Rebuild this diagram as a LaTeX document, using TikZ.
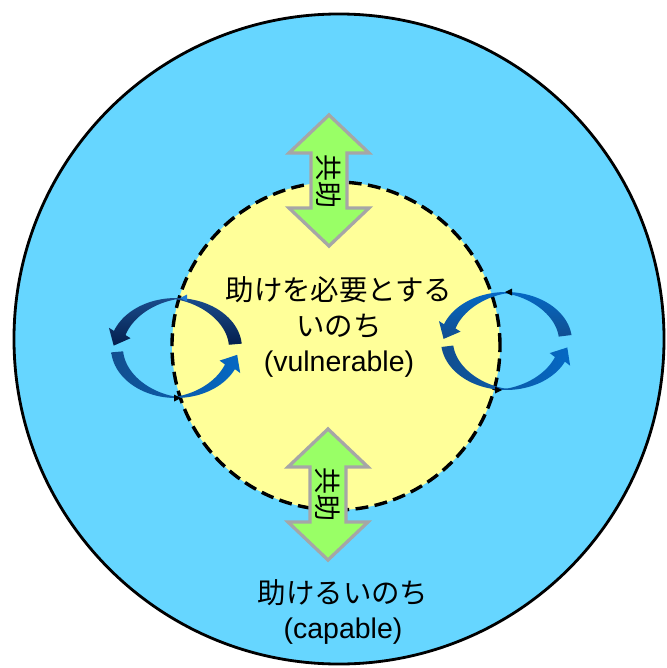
\documentclass[tikz,border=0pt]{standalone}
\usepackage{fontspec}
\setmainfont{Liberation Sans}
\newfontfamily\jp{Noto Sans CJK JP}
\definecolor{outerblue}{RGB}{102,214,255}
\definecolor{inneryellow}{RGB}{255,255,153}
\definecolor{arrowgreen}{RGB}{153,255,102}
\definecolor{arrowgray}{RGB}{166,166,166}
\definecolor{navyA}{RGB}{4,30,76}
\definecolor{navyB}{RGB}{26,76,140}
\definecolor{blueA}{RGB}{4,104,196}
\definecolor{blueB}{RGB}{18,78,142}
\definecolor{tinyblue}{RGB}{30,120,210}
\def\hw{12}
\def\hl{14}
% #1 cx, #2 cy, #3 rx, #4 ry, #5 t1, #6 t2, #7 wmin, #8 wmax, #9 style
\newcommand\bentarrow[9]{%
  \pgfmathsetmacro\wE{#7+(#8-#7)*abs(cos(#6))}%
  \pgfmathsetmacro\mx{#1+(#3-\wE/2)*cos(#6)}%
  \pgfmathsetmacro\my{#2-(#4-\wE/2)*sin(#6)}%
  \pgfmathsetmacro\tx{-#3*sin(#6)}%
  \pgfmathsetmacro\ty{-#4*cos(#6)}%
  \pgfmathsetmacro\tn{sqrt(\tx*\tx+\ty*\ty)}%
  \pgfmathsetmacro\ux{\tx/\tn}%
  \pgfmathsetmacro\uy{\ty/\tn}%
  \shade[#9] plot[domain=#5:#6,samples=50,variable=\t] ({#1+#3*cos(\t)},{#2-#4*sin(\t)})
    -- ({\mx-\hw*\uy},{\my+\hw*\ux})
    -- ({\mx+\hl*\ux},{\my+\hl*\uy})
    -- ({\mx+\hw*\uy},{\my-\hw*\ux})
    -- plot[domain=#6:#5,samples=50,variable=\t]
       ({#1+(#3-#7-(#8-#7)*abs(cos(\t)))*cos(\t)},{#2-(#4-#7-(#8-#7)*abs(cos(\t)))*sin(\t)})
    -- cycle;%
}
\newcommand\dblarrow[2]{%
  \draw[dblstyle] (#1,#2) -- (#1+40,#2+38) -- (#1+18,#2+38) -- (#1+18,#2+93)
    -- (#1+40,#2+93) -- (#1,#2+131) -- (#1-40,#2+93) -- (#1-18,#2+93)
    -- (#1-18,#2+38) -- (#1-40,#2+38) -- cycle;%
}
\begin{document}
\begin{tikzpicture}[x=0.03cm,y=-0.03cm,
  dblstyle/.style={fill=arrowgreen, draw=arrowgray, line width=2.8pt, line join=miter},
  kyojo/.style={rotate=-90, inner sep=0pt, font=\jp\fontsize{23}{23}\selectfont},
  bigtext/.style={align=center, inner sep=0pt, font=\fontsize{24.3}{30.5}\selectfont}]
\useasboundingbox (0,0) rectangle (666,668);
% outer circle
\path[fill=outerblue, draw=black, line width=2.4pt] (339,339) coordinate (oc) circle [radius=9.75cm];
% inner circle
\path[fill=inneryellow, draw=black, line width=2.9pt, dash pattern=on 11pt off 5.5pt] (336,346) coordinate (ic) circle [radius=4.92cm];
% double arrows
\dblarrow{329}{115}
\dblarrow{328}{429}
\node[kyojo] (k1) at (329,181) {共助};
\node[kyojo] (k2) at (328,494) {共助};
% texts
\node[bigtext] (vul) at (339,327) {{\jp 助けを必要とする}\\{\jp いのち}\\(vulnerable)};
\node[bigtext] (cap) at (343,612) {{\jp 助けるいのち}\\(capable)};
% left loop
\bentarrow{176}{348}{66}{50}{5}{160}{1.3}{13}{top color=navyB, bottom color=navyA}
\bentarrow{176}{348}{65}{50}{185}{335}{1.3}{12}{left color=blueB, right color=blueA}
% right loop
\bentarrow{506}{341}{66}{49}{7}{160}{1.3}{13}{top color=blueA, bottom color=blueB}
\bentarrow{506}{341}{65}{49}{187}{335}{1.3}{12}{left color=blueB, right color=blueA}
% tiny arrowheads
\fill[tinyblue] (180,298) -- (187,294.5) -- (187,301.5) -- cycle;
\fill[black] (181,398) -- (174,394.5) -- (174,401.5) -- cycle;
\fill[black] (505,292) -- (512,288.5) -- (512,295.5) -- cycle;
\fill[black] (502,390) -- (495,386.5) -- (495,393.5) -- cycle;
\end{tikzpicture}
\end{document}
